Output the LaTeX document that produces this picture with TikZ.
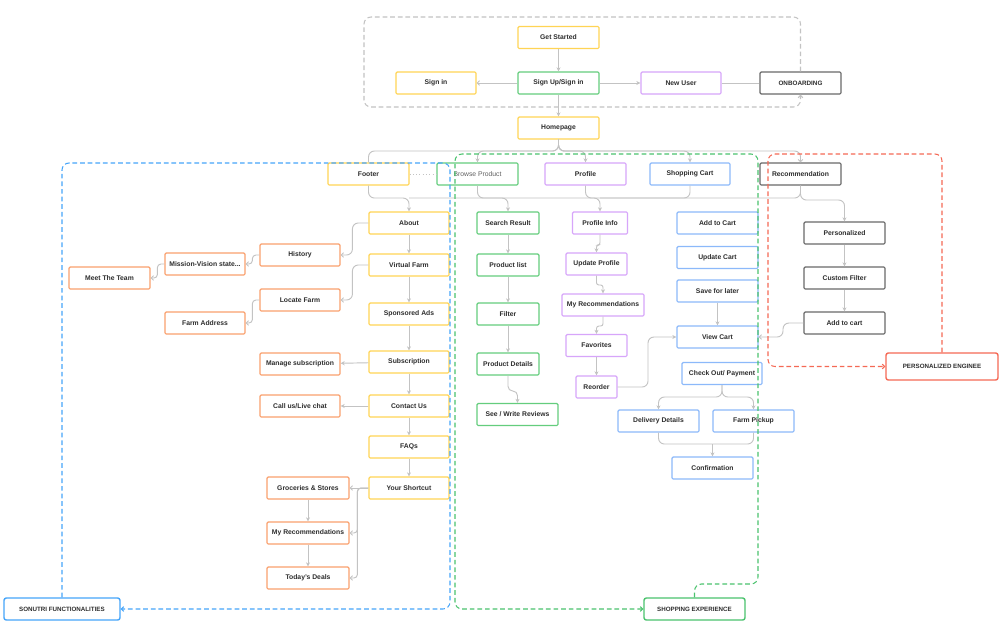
\documentclass[tikz,border=0pt]{standalone}
\usepackage{fontspec}
\setmainfont{Liberation Sans}
\usetikzlibrary{arrows.meta}

\definecolor{ylw}{RGB}{255,212,85}
\definecolor{grn}{RGB}{100,205,125}
\definecolor{prp}{RGB}{215,165,250}
\definecolor{blu}{RGB}{140,185,250}
\definecolor{org}{RGB}{250,160,110}
\definecolor{drk}{RGB}{105,105,105}
\definecolor{lnk}{RGB}{195,195,195}
\definecolor{txt}{RGB}{45,45,45}
\definecolor{redd}{RGB}{245,105,85}
\definecolor{blud}{RGB}{70,165,250}
\definecolor{grnd}{RGB}{75,195,110}

\tikzset{
  box/.style={draw, line width=1pt, rounded corners=1pt, fill=white, minimum width=2.43cm,
    minimum height=0.66cm, inner sep=0pt, font=\fontsize{5.8}{7}\selectfont\bfseries, text=txt},
  ybox/.style={box, draw=ylw},
  gbox/.style={box, draw=grn},
  pbox/.style={box, draw=prp},
  bbox/.style={box, draw=blu},
  obox/.style={box, draw=org},
  dbox/.style={box, draw=drk},
  tagbox/.style={box, line width=1.2pt, rounded corners=2pt, font=\fontsize{5.3}{6}\selectfont\bfseries},
  link/.style={draw=lnk, line width=0.8pt, rounded corners=5pt},
  arr/.style={link, -{Stealth[length=3.5pt,width=3.5pt]}},
  oarr/.style={link, -{Straight Barb[length=2pt,width=4pt]}},
  grp/.style={dash pattern=on 4pt off 2.5pt, line width=0.9pt, rounded corners=6pt,
    -{Straight Barb[length=2pt,width=4pt]}},
}

\begin{document}
\begin{tikzpicture}[x=0.03cm, y=-0.03cm]
  \fill[white] (0,0) rectangle (1007,631);
  \useasboundingbox (0,0) rectangle (1007,631);

  % Onboarding
  \node[ybox] (gs) at (558.5,37.5) {Get Started};
  \node[ybox, minimum width=2.4cm] (si) at (436,83) {Sign in};
  \node[gbox] (sus) at (558.5,83) {Sign Up/Sign in};
  \node[pbox, minimum width=2.4cm] (nu) at (681,83) {New User};
  \node[dbox, font=\fontsize{5.4}{6}\selectfont\bfseries] (onb) at (800.5,83) {ONBOARDING};
  \node[ybox] (home) at (558.5,128) {Homepage};

  % Main sections
  \node[ybox] (foot) at (368.5,174) {Footer};
  \node[gbox, font=\fontsize{5.8}{7}\selectfont, text=txt!75] (bp) at (477.5,174) {Browse Product};
  \node[pbox] (prof) at (585.5,174) {Profile};
  \node[bbox, minimum width=2.4cm] (cart) at (690,174) {Shopping Cart};
  \node[dbox] (rec) at (800.5,174) {Recommendation};

  % Footer column
  \node[ybox, minimum width=2.4cm] (about) at (409,223) {About};
  \node[ybox, minimum width=2.4cm] (vf) at (409,265) {Virtual Farm};
  \node[ybox, minimum width=2.4cm] (ads) at (409,314) {Sponsored Ads};
  \node[ybox, minimum width=2.4cm] (sub) at (409,362) {Subscription};
  \node[ybox, minimum width=2.4cm] (contact) at (409,406) {Contact Us};
  \node[ybox, minimum width=2.4cm] (faq) at (409,447) {FAQs};
  \node[ybox, minimum width=2.4cm] (short) at (409,488) {Your Shortcut};

  \node[obox, minimum width=2.4cm] (hist) at (300,255) {History};
  \node[obox, minimum width=2.4cm] (mv) at (205,264) {Mission-Vision state...};
  \node[obox] (team) at (109.5,278) {Meet The Team};
  \node[obox, minimum width=2.4cm] (loc) at (300,300) {Locate Farm};
  \node[obox, minimum width=2.4cm] (addr) at (205,323) {Farm Address};
  \node[obox, minimum width=2.4cm] (manage) at (300,364) {Manage subscription};
  \node[obox, minimum width=2.4cm] (call) at (300,406) {Call us/Live chat};
  \node[obox, minimum width=2.46cm] (groc) at (308,488) {Groceries \& Stores};
  \node[obox, minimum width=2.46cm] (myrec) at (308,533) {My Recommendations};
  \node[obox, minimum width=2.46cm] (deals) at (308,578) {Today's Deals};

  % Browse column
  \node[gbox, minimum width=1.86cm] (sres) at (508,223) {Search Result};
  \node[gbox, minimum width=1.86cm] (plist) at (508,265) {Product list};
  \node[gbox, minimum width=1.86cm] (filt) at (508,314) {Filter};
  \node[gbox, minimum width=1.86cm] (pdet) at (508,364) {Product Details};
  \node[gbox] (rev) at (517.5,414.5) {See / Write Reviews};

  % Profile column
  \node[pbox, minimum width=1.65cm] (pinfo) at (600,223) {Profile Info};
  \node[pbox, minimum width=1.83cm] (upd) at (596.5,264) {Update Profile};
  \node[pbox, minimum width=2.46cm] (prec) at (603,305) {My Recommendations};
  \node[pbox, minimum width=1.83cm] (fav) at (596.5,345.5) {Favorites};
  \node[pbox, minimum width=1.23cm] (reo) at (596.5,387) {Reorder};

  % Cart column
  \node[bbox] (add) at (717.5,223) {Add to Cart};
  \node[bbox] (upc) at (717.5,257.5) {Update Cart};
  \node[bbox] (save) at (717.5,291) {Save for later};
  \node[bbox] (view) at (717.5,337) {View Cart};
  \node[bbox, minimum width=2.4cm] (chk) at (722,373.5) {Check Out/ Payment};
  \node[bbox] (deliv) at (658.5,421) {Delivery Details};
  \node[bbox] (pick) at (753.5,421) {Farm Pickup};
  \node[bbox] (conf) at (712.5,468) {Confirmation};

  % Recommendation column
  \node[dbox] (pers) at (844.5,233) {Personalized};
  \node[dbox] (cfil) at (844.5,278) {Custom Filter};
  \node[dbox] (atc) at (844.5,323) {Add to cart};

  % Group labels
  \node[tagbox, draw=redd, minimum width=3.36cm, minimum height=0.81cm] (engine) at (942,366.5) {PERSONALIZED ENGINEE};
  \node[tagbox, draw=blud, minimum width=3.48cm] (sonutri) at (62,609) {SONUTRI FUNCTIONALITIES};
  \node[tagbox, draw=grnd, minimum width=3.03cm] (shop) at (694.5,609) {SHOPPING EXPERIENCE};

  % Onboarding links
  \draw[arr] (gs) -- (sus);
  \draw[oarr] (sus) -- (si);
  \draw[arr] (sus) -- (nu);
  \draw[link] (nu) -- (onb);
  \draw[arr] (sus) -- (home);

  % Homepage split
  \draw[link] (home.south) |- (foot.north |- 0,151) -- (foot.north);
  \draw[arr] (home.south) |- (bp.north |- 0,151) -- (bp.north);
  \draw[arr] (home.south) |- (prof.north |- 0,151) -- (prof.north);
  \draw[arr] (home.south) |- (cart.north |- 0,151) -- (cart.north);
  \draw[oarr] (home.south) |- (rec.north |- 0,151) -- (rec.north);
  \draw[link, dotted] (foot) -- (bp);

  % Sections down to their pages
  \draw[arr] (foot.south) |- (about.north |- 0,198) -- (about.north);
  \draw[arr] (bp.south) |- (sres.north |- 0,198) -- (sres.north);
  \draw[arr] (prof.south) |- (pinfo.north |- 0,198) -- (pinfo.north);
  \draw[link] (cart.south) |- (pinfo.north |- 0,198);
  \draw[link] (rec.south) |- (about.north |- 0,198);
  \draw[arr] (rec.south) |- (pers.north |- 0,200) -- (pers.north);

  % Footer column
  \draw[arr] (about) -- (vf);
  \draw[arr] (vf) -- (ads);
  \draw[arr] (ads) -- (sub);
  \draw[arr] (sub) -- (contact);
  \draw[arr] (contact) -- (faq);
  \draw[arr] (faq) -- (short);
  \draw[oarr] (about.west) -- ++(-16,0) |- (hist.east);
  \draw[oarr] (vf.west) -- ++(-16,0) |- (loc.east);
  \draw[oarr, rounded corners=3pt] (hist.west) -- ++(-7,0) |- (mv.east);
  \draw[oarr, rounded corners=3pt] (mv.west) -- ++(-7,0) |- (team.east);
  \draw[oarr, rounded corners=3pt] (loc.west) -- ++(-7,0) |- (addr.east);
  \draw[arr] (sub) -- (manage);
  \draw[arr] (contact) -- (call);
  \draw[oarr] (short) -- (groc);
  \draw[oarr, rounded corners=3pt] (short.west) -- ++(-11,0) |- (myrec.east);
  \draw[oarr, rounded corners=3pt] (short.west) -- ++(-11,0) |- (deals.east);
  \draw[arr] (groc) -- (myrec);
  \draw[arr] (myrec) -- (deals);

  % Browse column
  \draw[arr] (sres) -- (plist);
  \draw[arr] (plist) -- (filt);
  \draw[arr] (filt) -- (pdet);
  \draw[arr, rounded corners=4pt] (pdet.south) |- (rev.north |- 0,391) -- (rev.north);

  % Profile column
  \draw[arr, rounded corners=2pt] (pinfo.south) |- (upd.north |- 0,245) -- (upd.north);
  \draw[arr, rounded corners=2pt] (upd.south) |- (prec.north |- 0,285) -- (prec.north);
  \draw[arr, rounded corners=2pt] (prec.south) |- (fav.north |- 0,326) -- (fav.north);
  \draw[arr] (fav) -- (reo);
  \draw[arr] (reo.east) -- (648,387) |- (view.west);

  % Cart column
  \draw[arr] (save) -- (view);
  \draw[arr] (chk.south) |- (deliv.north |- 0,397) -- (deliv.north);
  \draw[arr] (chk.south) |- (pick.north |- 0,397) -- (pick.north);
  \draw[link] (deliv.south) |- (conf.north |- 0,444);
  \draw[link] (pick.south) |- (conf.north |- 0,444);
  \draw[arr] (conf.north |- 0,444) -- (conf.north);

  % Recommendation column
  \draw[arr] (pers) -- (cfil);
  \draw[arr] (cfil) -- (atc);
  \draw[oarr] (atc.west) -- (783,323) |- (view.east);

  % Dashed groups
  \draw[grp, draw=lnk] (onb.north) |- (364,17) |- (800.5,107) -- (onb.south);
  \draw[grp, draw=blud] (sonutri.north) |- (450,163) |- (sonutri.east);
  \draw[grp, draw=grnd] (shop.north) |- (758,584) |- (455,154) |- (shop.west);
  \draw[grp, draw=redd] (engine.north) |- (768,154) |- (engine.west);
\end{tikzpicture}
\end{document}
